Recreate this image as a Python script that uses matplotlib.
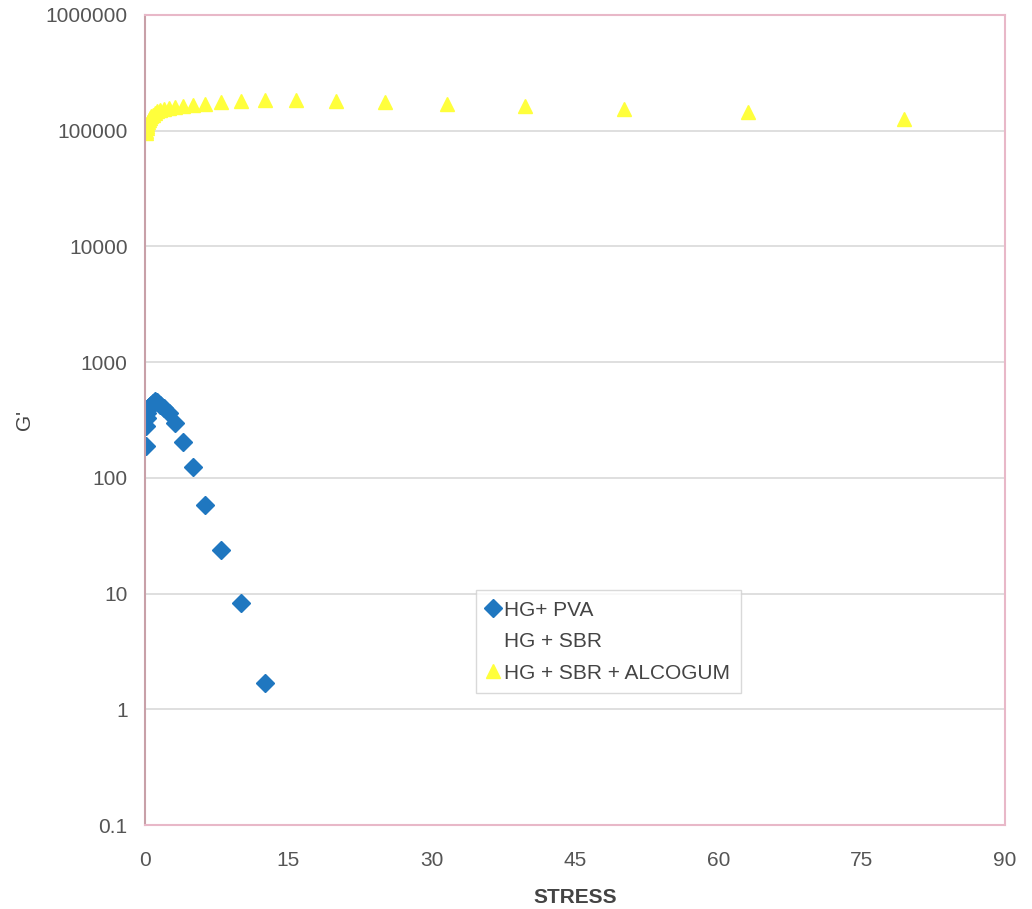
import numpy as np
import matplotlib.pyplot as plt

plt.rcParams['font.family'] = ['Liberation Sans', 'DejaVu Sans']

# stress sweep (log spaced) and G' readings
pva_stress = [0.1, 0.126, 0.158, 0.2, 0.251, 0.316, 0.398, 0.501, 0.631, 0.794,
              1.0, 1.26, 1.58, 2.0, 2.51, 3.16, 3.98, 5.01, 6.31, 7.94, 10.0, 12.6]
pva_g = [190, 280, 330, 360, 385, 400, 410, 420, 430, 440,
         460, 450, 430, 400, 360, 300, 205, 124, 58, 24, 8.3, 1.7]

alco_stress = [0.1, 0.126, 0.158, 0.2, 0.251, 0.316, 0.398, 0.501, 0.631, 0.794,
               1.0, 1.26, 1.58, 2.0, 2.51, 3.16, 3.98, 5.01, 6.31, 7.94,
               10.0, 12.6, 15.8, 20.0, 25.1, 31.6, 39.8, 50.1, 63.1, 79.4]
alco_g = [95000, 100000, 105000, 110000, 115000, 120000, 125000, 130000, 134000, 138000,
          142000, 148000, 152000, 155000, 157000, 160000, 163000, 166000, 170000, 176000,
          181000, 183000, 183000, 181000, 177000, 170000, 164000, 154000, 145000, 126000]

sbr_stress = []
sbr_g = []

fig = plt.figure(figsize=(10.32, 9.09), dpi=100)
ax = fig.add_axes([0.1405, 0.0924, 0.8333, 0.8911])

ax.plot(pva_stress, pva_g, 'D', color='#1f77c0', markersize=9, label='HG+ PVA')
ax.plot(sbr_stress, sbr_g, 's', color='white', markersize=9, label='HG + SBR')
ax.plot(alco_stress, alco_g, '^', color='#ffff3c', markersize=9.5, label='HG + SBR + ALCOGUM')

ax.set_yscale('log')
ax.set_ylim(0.1, 1000000)
ax.set_xlim(0, 90)
ax.set_xticks([0, 15, 30, 45, 60, 75, 90])
yt = [0.1, 1, 10, 100, 1000, 10000, 100000, 1000000]
ax.set_yticks(yt)
ax.set_yticklabels(['0.1', '1', '10', '100', '1000', '10000', '100000', '1000000'])
ax.minorticks_off()
ax.yaxis.grid(True, color='#d9d9d9', linewidth=1.2)
ax.set_axisbelow(True)

for s in ['top', 'right', 'bottom']:
    ax.spines[s].set_color('#e8b8c8')
    ax.spines[s].set_linewidth(1.5)
ax.spines['left'].set_color('#c8a0a8')
ax.spines['left'].set_linewidth(1.5)

ax.tick_params(axis='both', labelsize=15, labelcolor='#555555', length=0)
ax.tick_params(axis='x', pad=19)
ax.tick_params(axis='y', pad=12.5)
ax.set_xlabel('STRESS', fontsize=15, fontweight='bold', color='#444444', labelpad=13)
ax.set_ylabel("G'", fontsize=15, color='#444444', labelpad=8)

leg = ax.legend(loc='upper left', bbox_to_anchor=(0.385, 0.290), borderaxespad=0,
                fontsize=15, frameon=True, fancybox=False, edgecolor='#d0d0d0',
                handlelength=0.6, handletextpad=0.25, borderpad=0.5, labelspacing=0.6)
leg.get_frame().set_linewidth(1.0)
for t in leg.get_texts():
    t.set_color('#444444')

fig.savefig('out.png', dpi=100)
